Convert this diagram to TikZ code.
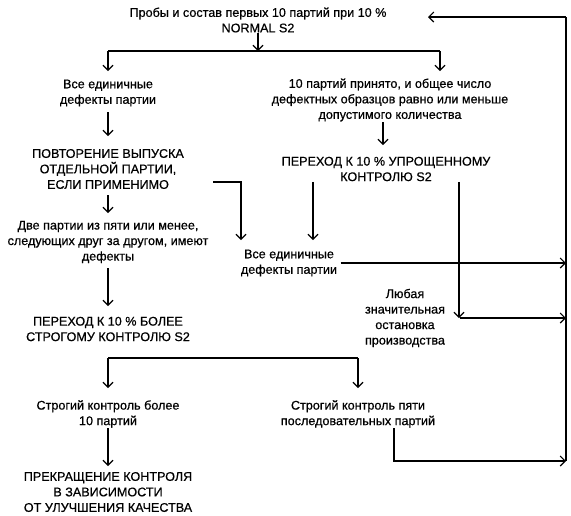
\documentclass[tikz,border=0pt]{standalone}
\usepackage{fontspec}
\setmainfont[FakeBold=0.6]{Liberation Sans}
\usetikzlibrary{arrows.meta,calc}
\begin{document}
\begin{tikzpicture}[x=1pt,y=-1pt,
  font=\fontsize{12.6}{15.5}\selectfont,
  every node/.style={align=center, inner sep=0pt},
  line width=1.1pt,
  arr/.style={-{Straight Barb[length=5pt,width=10pt]}}]
\useasboundingbox (0,0) rectangle (571,515);

% nodes
\node (top)   at (258,20)   {Пробы и состав первых 10 партий при 10 \%\\NORMAL S2};
\node (all1)  at (108,93)   {Все единичные\\дефекты партии};
\node (acc10) at (390,100)  {10 партий принято, и общее число\\дефектных образцов равно или меньше\\допустимого количества};
\node (rep)   at (108,169)  {ПОВТОРЕНИЕ ВЫПУСКА\\ОТДЕЛЬНОЙ ПАРТИИ,\\ЕСЛИ ПРИМЕНИМО};
\node (red)   at (386,169)  {ПЕРЕХОД К 10 \% УПРОЩЕННОМУ\\КОНТРОЛЮ S2};
\node (two)   at (108,242)  {Две партии из пяти или менее,\\следующих друг за другом, имеют\\дефекты};
\node (all2)  at (289,263)  {Все единичные\\дефекты партии};
\node (tight) at (108,329)  {ПЕРЕХОД К 10 \% БОЛЕЕ\\СТРОГОМУ КОНТРОЛЮ S2};
\node (stop)  at (405,318)  {Любая\\значительная\\остановка\\производства};
\node (str10) at (108,414)  {Строгий контроль более\\10 партий};
\node (str5)  at (358,414)  {Строгий контроль пяти\\последовательных партий};
\node (end)   at (108,492)  {ПРЕКРАЩЕНИЕ КОНТРОЛЯ\\В ЗАВИСИМОСТИ\\ОТ УЛУЧШЕНИЯ КАЧЕСТВА};

% junctions and free ends
\coordinate (j1l) at (108,51);
\coordinate (j1r) at (440,51);
\coordinate (rail) at (566,17);
\coordinate (railb) at (566,461);
\coordinate (rj) at (213,182);
\coordinate (rjend) at (241,240);
\coordinate (redend) at (313,240);
\coordinate (rd) at (459,318);
\coordinate (j2l) at (108,358);
\coordinate (j2r) at (358,358);
\coordinate (topend) at (428,17);

% connectors
\draw[arr] (top.south) -- (top.south |- j1l);
\draw (j1l) -- (j1r);
\draw[arr] (j1l) -- (all1.north |- 0,71);
\draw[arr] (j1r) -- (j1r |- 0,71);
\draw[arr] (all1.south |- 0,112) -- (rep.north |- 0,136);
\draw[arr] (acc10.south -| 383,0) -- (383,145);
\draw[arr] (rj) -| (rjend);
\draw[arr] (rep.south |- 0,195) -- (two.north |- 0,213);
\draw[arr] (red.south -| redend) -- (redend);
\draw[arr] (red.south -| rd) -- (rd);
\draw[arr] ([xshift=3pt]all2.east) -- (all2.east -| rail);
\draw[arr] ([xshift=1pt]rd) -- (rd -| rail);
\draw[arr] (two.south |- 0,268) -- (tight.north |- 0,306);
\draw (j2l) -- (j2r);
\draw[arr] (j2l) -- (str10.north |- 0,388);
\draw[arr] (j2r) -- (str5.north |- 0,388);
\draw[arr] (str10.south |- 0,428) -- (end.north |- 0,466);
\draw[arr] (str5.south -| 394,0) -- (394,461) -- (railb);
\draw (railb) -- (rail);
\draw[arr] (rail) -- (topend);
\end{tikzpicture}
\end{document}
